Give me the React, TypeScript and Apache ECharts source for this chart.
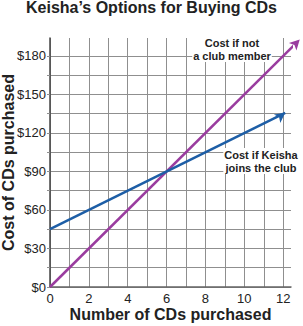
import React, { useEffect, useRef } from "react";
import * as echarts from "echarts";

const xTicks = [0, 2, 4, 6, 8, 10, 12];
const yTicks = [0, 30, 60, 90, 120, 150, 180];
const nonMember: [number, number][] = [[0, 0], [12.85, 192.75]];
const clubMember: [number, number][] = [[0, 45], [12.1, 135.75]];
const labelNonMember = "Cost if not\na club member";
const labelClub = "Cost if Keisha\njoins the club";

const FONT = "'Liberation Sans', Arial, Helvetica, sans-serif";

export default function App() {
  const ref = useRef<HTMLDivElement>(null);
  useEffect(() => {
    if (!ref.current) return;
    const chart = echarts.init(ref.current, undefined, { renderer: "svg" });
    const arrowSeries = (name: string, data: [number, number][], color: string, rot: number) => ({
      name,
      type: "line",
      data,
      clip: false,
      lineStyle: { color, width: 2.5 },
      itemStyle: { color },
      symbol: (_v: any, p: any) => (p.dataIndex === data.length - 1 ? "arrow" : "none"),
      symbolSize: [8, 10],
      symbolRotate: rot,
      z: 3,
    });
    chart.setOption({
      animation: false,
      backgroundColor: "#fff",
      textStyle: { fontFamily: FONT },
      title: {
        text: "Keisha\u2019s Options for Buying CDs",
        left: "center",
        top: -1,
        padding: 0,
        textStyle: { fontSize: 16, fontWeight: "bold", color: "#222", fontFamily: FONT },
      },
      grid: { left: 50, right: 12, top: 38, bottom: 39, outerBoundsMode: "none", containLabel: false },
      xAxis: {
        type: "value",
        min: 0,
        max: 12.4,
        interval: 1,
        name: "Number of CDs purchased",
        nameLocation: "middle",
        nameGap: 19,
        nameMoveOverlap: false,
        nameTextStyle: { fontSize: 16, fontWeight: "bold", color: "#222", fontFamily: FONT },
        axisLine: { show: true, lineStyle: { color: "#666", width: 1.5 } },
        axisTick: { show: false },
        axisLabel: {
          margin: 5,
          fontSize: 13,
          color: "#222",
          showMaxLabel: false,
          formatter: (v: number) => (xTicks.includes(v) ? String(v) : ""),
        },
        splitLine: { show: true, showMaxLine: false, lineStyle: { color: "#8f8f8f", width: 1 } },
      },
      yAxis: {
        type: "value",
        min: 0,
        max: 194,
        interval: 15,
        name: "Cost of CDs purchased",
        nameLocation: "middle",
        nameGap: 34,
        nameMoveOverlap: false,
        nameTextStyle: { fontSize: 16, fontWeight: "bold", color: "#222", fontFamily: FONT },
        axisLine: { show: true, lineStyle: { color: "#444", width: 1.5 } },
        axisTick: { show: true, length: 3, lineStyle: { color: "#8f8f8f" } },
        axisLabel: {
          margin: 4,
          fontSize: 13,
          color: "#222",
          showMaxLabel: false,
          formatter: (v: number) => (yTicks.includes(v) ? "$" + v : ""),
        },
        splitLine: { show: true, showMaxLine: false, lineStyle: { color: "#8f8f8f", width: 1 } },
      },
      series: [
        arrowSeries("Cost if not a club member", nonMember, "#9a3c9f", -45),
        arrowSeries("Cost if Keisha joins the club", clubMember, "#1d5ea6", -53.5),
      ],
      graphic: [
        {
          type: "text",
          x: 232,
          y: 36,
          z: 10,
          style: {
            text: labelNonMember,
            font: "bold 11px " + FONT,
            fill: "#222",
            align: "center",
            lineHeight: 13,
            backgroundColor: "#fff",
            padding: [0, 1],
          },
        },
        {
          type: "text",
          x: 261,
          y: 148,
          z: 10,
          style: {
            text: labelClub,
            font: "bold 11px " + FONT,
            fill: "#222",
            align: "center",
            lineHeight: 13,
            backgroundColor: "#fff",
            padding: [0, 1],
          },
        },
      ],
    });
    return () => chart.dispose();
  }, []);
  return <div ref={ref} style={{ width: 303, height: 326, position: "fixed", left: 0, top: 0 }} />;
}
